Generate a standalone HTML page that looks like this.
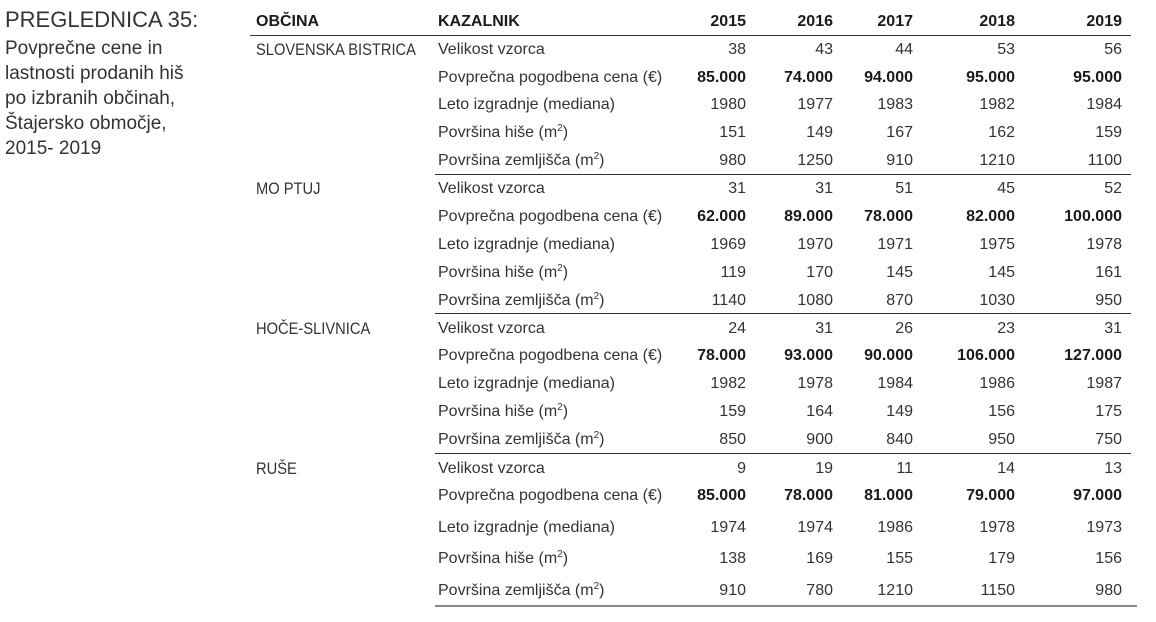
<!DOCTYPE html>
<html>
<head>
<meta charset="utf-8">
<style>
  html,body{margin:0;padding:0;background:#fff;}
  body{width:1156px;height:622px;position:relative;overflow:hidden;font-family:"Liberation Sans",sans-serif;color:#333;}
  .t{position:absolute;white-space:nowrap;height:20px;line-height:20px;font-size:16px;margin-top:2px;}
  .h{font-weight:bold;color:#1a1a1a;}
  .b{font-weight:bold;color:#1a1a1a;}
  .r{text-align:right;}
  .c1{left:686px;width:60px;}
  .c2{left:773px;width:60px;}
  .c3{left:853px;width:60px;}
  .c4{left:945px;width:70px;}
  .c5{left:1052px;width:70px;}
  .lab{left:438px;}
  .name{left:256px;transform:scaleX(0.89);transform-origin:left center;font-size:16.5px;}
  .line{position:absolute;height:1px;background:#333;}
  sup{font-size:10px;line-height:0;vertical-align:6px;}
  .title{position:absolute;left:5px;white-space:nowrap;color:#333;}
</style>
</head>
<body>
<div class="title" style="top:7px;font-size:22px;line-height:26px;">PREGLEDNICA 35:</div>
<div class="title" style="top:36px;font-size:19px;line-height:25px;">Povprečne cene in<br>lastnosti prodanih hiš<br>po izbranih občinah,<br>Štajersko območje,<br>2015- 2019</div>

<div class="t h" style="left:256px;top:10px;">OBČINA</div>
<div class="t h" style="left:438px;top:10px;">KAZALNIK</div>
<div class="t h r c1" style="top:10px;">2015</div>
<div class="t h r c2" style="top:10px;">2016</div>
<div class="t h r c3" style="top:10px;">2017</div>
<div class="t h r c4" style="top:10px;">2018</div>
<div class="t h r c5" style="top:10px;">2019</div>
<div class="line" style="left:250px;width:881px;top:35px;"></div>

<!-- Group 1 -->
<div class="t name" style="top:38px;">SLOVENSKA BISTRICA</div>
<div class="t lab" style="top:38px;">Velikost vzorca</div>
<div class="t r c1" style="top:38px;">38</div><div class="t r c2" style="top:38px;">43</div><div class="t r c3" style="top:38px;">44</div><div class="t r c4" style="top:38px;">53</div><div class="t r c5" style="top:38px;">56</div>
<div class="t lab" style="top:66px;">Povprečna pogodbena cena (€)</div>
<div class="t b r c1" style="top:66px;">85.000</div><div class="t b r c2" style="top:66px;">74.000</div><div class="t b r c3" style="top:66px;">94.000</div><div class="t b r c4" style="top:66px;">95.000</div><div class="t b r c5" style="top:66px;">95.000</div>
<div class="t lab" style="top:93px;">Leto izgradnje (mediana)</div>
<div class="t r c1" style="top:93px;">1980</div><div class="t r c2" style="top:93px;">1977</div><div class="t r c3" style="top:93px;">1983</div><div class="t r c4" style="top:93px;">1982</div><div class="t r c5" style="top:93px;">1984</div>
<div class="t lab" style="top:121px;">Površina hiše (m<sup>2</sup>)</div>
<div class="t r c1" style="top:121px;">151</div><div class="t r c2" style="top:121px;">149</div><div class="t r c3" style="top:121px;">167</div><div class="t r c4" style="top:121px;">162</div><div class="t r c5" style="top:121px;">159</div>
<div class="t lab" style="top:149px;">Površina zemljišča (m<sup>2</sup>)</div>
<div class="t r c1" style="top:149px;">980</div><div class="t r c2" style="top:149px;">1250</div><div class="t r c3" style="top:149px;">910</div><div class="t r c4" style="top:149px;">1210</div><div class="t r c5" style="top:149px;">1100</div>
<div class="line" style="left:435px;width:696px;top:174px;"></div>

<!-- Group 2 -->
<div class="t name" style="top:177px;">MO PTUJ</div>
<div class="t lab" style="top:177px;">Velikost vzorca</div>
<div class="t r c1" style="top:177px;">31</div><div class="t r c2" style="top:177px;">31</div><div class="t r c3" style="top:177px;">51</div><div class="t r c4" style="top:177px;">45</div><div class="t r c5" style="top:177px;">52</div>
<div class="t lab" style="top:205px;">Povprečna pogodbena cena (€)</div>
<div class="t b r c1" style="top:205px;">62.000</div><div class="t b r c2" style="top:205px;">89.000</div><div class="t b r c3" style="top:205px;">78.000</div><div class="t b r c4" style="top:205px;">82.000</div><div class="t b r c5" style="top:205px;">100.000</div>
<div class="t lab" style="top:233px;">Leto izgradnje (mediana)</div>
<div class="t r c1" style="top:233px;">1969</div><div class="t r c2" style="top:233px;">1970</div><div class="t r c3" style="top:233px;">1971</div><div class="t r c4" style="top:233px;">1975</div><div class="t r c5" style="top:233px;">1978</div>
<div class="t lab" style="top:261px;">Površina hiše (m<sup>2</sup>)</div>
<div class="t r c1" style="top:261px;">119</div><div class="t r c2" style="top:261px;">170</div><div class="t r c3" style="top:261px;">145</div><div class="t r c4" style="top:261px;">145</div><div class="t r c5" style="top:261px;">161</div>
<div class="t lab" style="top:289px;">Površina zemljišča (m<sup>2</sup>)</div>
<div class="t r c1" style="top:289px;">1140</div><div class="t r c2" style="top:289px;">1080</div><div class="t r c3" style="top:289px;">870</div><div class="t r c4" style="top:289px;">1030</div><div class="t r c5" style="top:289px;">950</div>
<div class="line" style="left:435px;width:696px;top:313px;"></div>

<!-- Group 3 -->
<div class="t name" style="top:317px;">HOČE-SLIVNICA</div>
<div class="t lab" style="top:317px;">Velikost vzorca</div>
<div class="t r c1" style="top:317px;">24</div><div class="t r c2" style="top:317px;">31</div><div class="t r c3" style="top:317px;">26</div><div class="t r c4" style="top:317px;">23</div><div class="t r c5" style="top:317px;">31</div>
<div class="t lab" style="top:344px;">Povprečna pogodbena cena (€)</div>
<div class="t b r c1" style="top:344px;">78.000</div><div class="t b r c2" style="top:344px;">93.000</div><div class="t b r c3" style="top:344px;">90.000</div><div class="t b r c4" style="top:344px;">106.000</div><div class="t b r c5" style="top:344px;">127.000</div>
<div class="t lab" style="top:372px;">Leto izgradnje (mediana)</div>
<div class="t r c1" style="top:372px;">1982</div><div class="t r c2" style="top:372px;">1978</div><div class="t r c3" style="top:372px;">1984</div><div class="t r c4" style="top:372px;">1986</div><div class="t r c5" style="top:372px;">1987</div>
<div class="t lab" style="top:400px;">Površina hiše (m<sup>2</sup>)</div>
<div class="t r c1" style="top:400px;">159</div><div class="t r c2" style="top:400px;">164</div><div class="t r c3" style="top:400px;">149</div><div class="t r c4" style="top:400px;">156</div><div class="t r c5" style="top:400px;">175</div>
<div class="t lab" style="top:428px;">Površina zemljišča (m<sup>2</sup>)</div>
<div class="t r c1" style="top:428px;">850</div><div class="t r c2" style="top:428px;">900</div><div class="t r c3" style="top:428px;">840</div><div class="t r c4" style="top:428px;">950</div><div class="t r c5" style="top:428px;">750</div>
<div class="line" style="left:435px;width:696px;top:453px;"></div>

<!-- Group 4 -->
<div class="t name" style="top:457px;">RUŠE</div>
<div class="t lab" style="top:457px;">Velikost vzorca</div>
<div class="t r c1" style="top:457px;">9</div><div class="t r c2" style="top:457px;">19</div><div class="t r c3" style="top:457px;">11</div><div class="t r c4" style="top:457px;">14</div><div class="t r c5" style="top:457px;">13</div>
<div class="t lab" style="top:484px;">Povprečna pogodbena cena (€)</div>
<div class="t b r c1" style="top:484px;">85.000</div><div class="t b r c2" style="top:484px;">78.000</div><div class="t b r c3" style="top:484px;">81.000</div><div class="t b r c4" style="top:484px;">79.000</div><div class="t b r c5" style="top:484px;">97.000</div>
<div class="t lab" style="top:516px;">Leto izgradnje (mediana)</div>
<div class="t r c1" style="top:516px;">1974</div><div class="t r c2" style="top:516px;">1974</div><div class="t r c3" style="top:516px;">1986</div><div class="t r c4" style="top:516px;">1978</div><div class="t r c5" style="top:516px;">1973</div>
<div class="t lab" style="top:547px;">Površina hiše (m<sup>2</sup>)</div>
<div class="t r c1" style="top:547px;">138</div><div class="t r c2" style="top:547px;">169</div><div class="t r c3" style="top:547px;">155</div><div class="t r c4" style="top:547px;">179</div><div class="t r c5" style="top:547px;">156</div>
<div class="t lab" style="top:579px;">Površina zemljišča (m<sup>2</sup>)</div>
<div class="t r c1" style="top:579px;">910</div><div class="t r c2" style="top:579px;">780</div><div class="t r c3" style="top:579px;">1210</div><div class="t r c4" style="top:579px;">1150</div><div class="t r c5" style="top:579px;">980</div>
<div class="line" style="left:435px;width:702px;top:605px;height:2px;background:#888;"></div>
</body>
</html>
